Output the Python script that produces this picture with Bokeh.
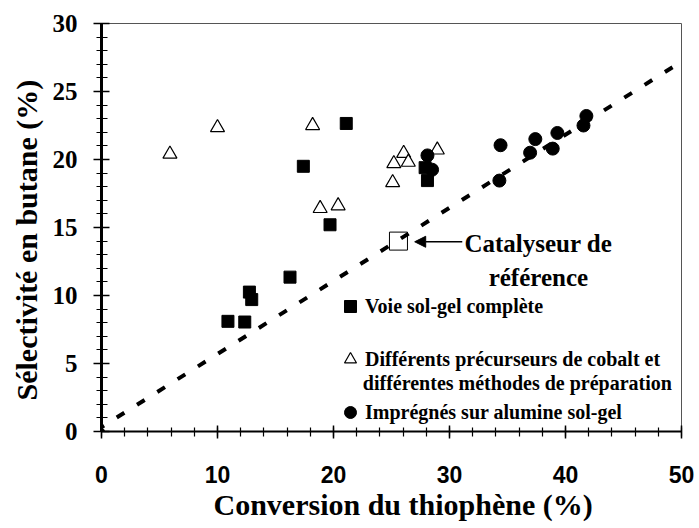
from bokeh.plotting import figure
from bokeh.models import (Range1d, SingleIntervalTicker, Legend, LegendItem, Arrow,
                          NormalHead, Label, Title, ColumnDataSource)
from bokeh.embed import file_html
from bokeh.resources import INLINE

# ---- data ----
# Voie sol-gel complete (filled squares)
solgel_x = [21.1, 17.4, 28.1, 27.9, 19.7, 16.25, 12.75, 12.95, 10.9, 12.35]
solgel_y = [22.65, 19.5, 18.45, 19.4, 15.2, 11.35, 10.25, 9.7, 8.1, 8.05]

# Differents precurseurs / methodes (open triangles)
prec_x = [5.9, 10.0, 18.2, 18.85, 20.4, 25.1, 25.2, 26.05, 26.45, 28.95]
prec_y = [20.4, 22.35, 22.5, 16.4, 16.6, 18.3, 19.7, 20.45, 19.8, 20.7]

# Impregnes sur alumine sol-gel (filled circles)
impr_x = [28.1, 28.5, 34.4, 34.3, 37.4, 36.95, 39.3, 38.9, 41.8, 41.55]
impr_y = [20.3, 19.25, 21.05, 18.45, 21.5, 20.5, 21.95, 20.8, 23.2, 22.5]

# reference catalyst
ref_x = [25.6]
ref_y = [14.0]

# origin point
origin_x = [0.0]
origin_y = [0.0]

# dashed trend line
trend_x = [0.0, 50.0]
trend_y = [0.32, 27.2]

# annotation texts
cata_text = ["Catalyseur de", "référence"]
cata_x = [37.66, 37.66]
cata_y = [13.79, 11.34]
arrow_from = (31.1, 13.95)
arrow_to = (27.0, 13.95)

x_title = "Conversion du thiophène (%)"
y_title = "Sélectivité en butane (%)"
legend_labels = ["Voie sol-gel complète",
                 "Différents précurseurs de cobalt et",
                 "Imprégnés sur alumine sol-gel"]
legend_second_line = "différentes méthodes de préparation"

SERIF = "Liberation Serif"
SANS = "Liberation Sans"

p = figure(width=699, height=528, output_backend="svg", toolbar_location=None,
           x_range=Range1d(0, 50), y_range=Range1d(0, 30),
           min_border_left=100, min_border_right=18, min_border_top=23,
           min_border_bottom=97)
p.xgrid.visible = False
p.ygrid.visible = False
p.outline_line_color = "#555555"
p.outline_line_width = 1
p.background_fill_color = "white"
p.border_fill_color = "white"

xa = p.xaxis[0]
xa.ticker = SingleIntervalTicker(interval=10, num_minor_ticks=5)
xa.axis_line_width = 2
xa.axis_line_color = "black"
xa.major_tick_line_color = "black"
xa.minor_tick_line_color = "black"
xa.major_tick_line_width = 1.5
xa.minor_tick_line_width = 1.2
xa.major_tick_in = 6
xa.major_tick_out = 7
xa.minor_tick_in = 4
xa.minor_tick_out = 5
xa.major_label_standoff = 27
xa.major_label_text_font = SANS
xa.major_label_text_font_style = "bold"
xa.major_label_text_font_size = "23px"
xa.major_label_text_color = "black"

ya = p.yaxis[0]
ya.ticker = SingleIntervalTicker(interval=5, num_minor_ticks=5)
ya.axis_line_width = 3
ya.axis_line_color = "black"
ya.major_tick_line_color = "black"
ya.minor_tick_line_color = "black"
ya.major_tick_line_width = 1.5
ya.minor_tick_line_width = 1.2
ya.major_tick_in = 8
ya.major_tick_out = 8
ya.minor_tick_in = 6
ya.minor_tick_out = 5
ya.major_label_standoff = 16
ya.major_label_text_font = SERIF
ya.major_label_text_font_style = "bold"
ya.major_label_text_font_size = "25px"
ya.major_label_text_color = "black"

p.add_layout(Title(text=x_title, align="left", offset=112, standoff=0,
                   text_font=SERIF, text_font_style="bold",
                   text_font_size="30px", text_color="black"), "below")
p.add_layout(Title(text=y_title, align="left", offset=31, standoff=14,
                   text_font=SERIF, text_font_style="bold",
                   text_font_size="30px", text_color="black"), "left")

# trend line
p.line(trend_x, trend_y, line_color="black", line_width=4,
       line_dash="9 15", line_dash_offset=6)
p.scatter(origin_x, origin_y, marker="circle", size=6, color="black")

r_sq = p.scatter(solgel_x, solgel_y, marker="square", size=12,
                 fill_color="black", line_color="black")
r_tri = p.scatter(prec_x, prec_y, marker="triangle", size=14,
                  fill_color="white", line_color="black", line_width=1.2)
r_ci = p.scatter(impr_x, impr_y, marker="circle", size=13,
                 fill_color="black", line_color="black")
p.scatter(ref_x, ref_y, marker="square", size=18, fill_color=None,
          line_color="black", line_width=1)

p.add_layout(Arrow(end=NormalHead(size=11, fill_color="black", line_color="black"),
                   x_start=arrow_from[0], y_start=arrow_from[1],
                   x_end=arrow_to[0], y_end=arrow_to[1],
                   line_color="black", line_width=1.5))

src = ColumnDataSource(dict(x=cata_x, y=cata_y, t=cata_text))
p.text(x="x", y="y", text="t", source=src, text_align="center",
       text_baseline="alphabetic", text_font={"value": SERIF},
       text_font_style="bold", text_font_size="25px", text_color="black")

legend = Legend(items=[LegendItem(label=legend_labels[0], renderers=[r_sq]),
                       LegendItem(label=legend_labels[1], renderers=[r_tri]),
                       LegendItem(label=legend_labels[2], renderers=[r_ci])],
                location=(234, 4), orientation="vertical",
                glyph_width=30, glyph_height=30, spacing=23, padding=0, margin=0,
                label_standoff=-2, border_line_color=None,
                background_fill_alpha=0,
                label_text_font=SERIF, label_text_font_style="bold",
                label_text_font_size="20px", label_text_color="black")
p.add_layout(legend)

p.add_layout(Label(x=22.53, y=3.6, text=legend_second_line,
                   text_baseline="middle", text_align="left",
                   text_font=SERIF, text_font_style="bold",
                   text_font_size="20px", text_color="black"))

open("out.html", "w").write(file_html(p, INLINE))
